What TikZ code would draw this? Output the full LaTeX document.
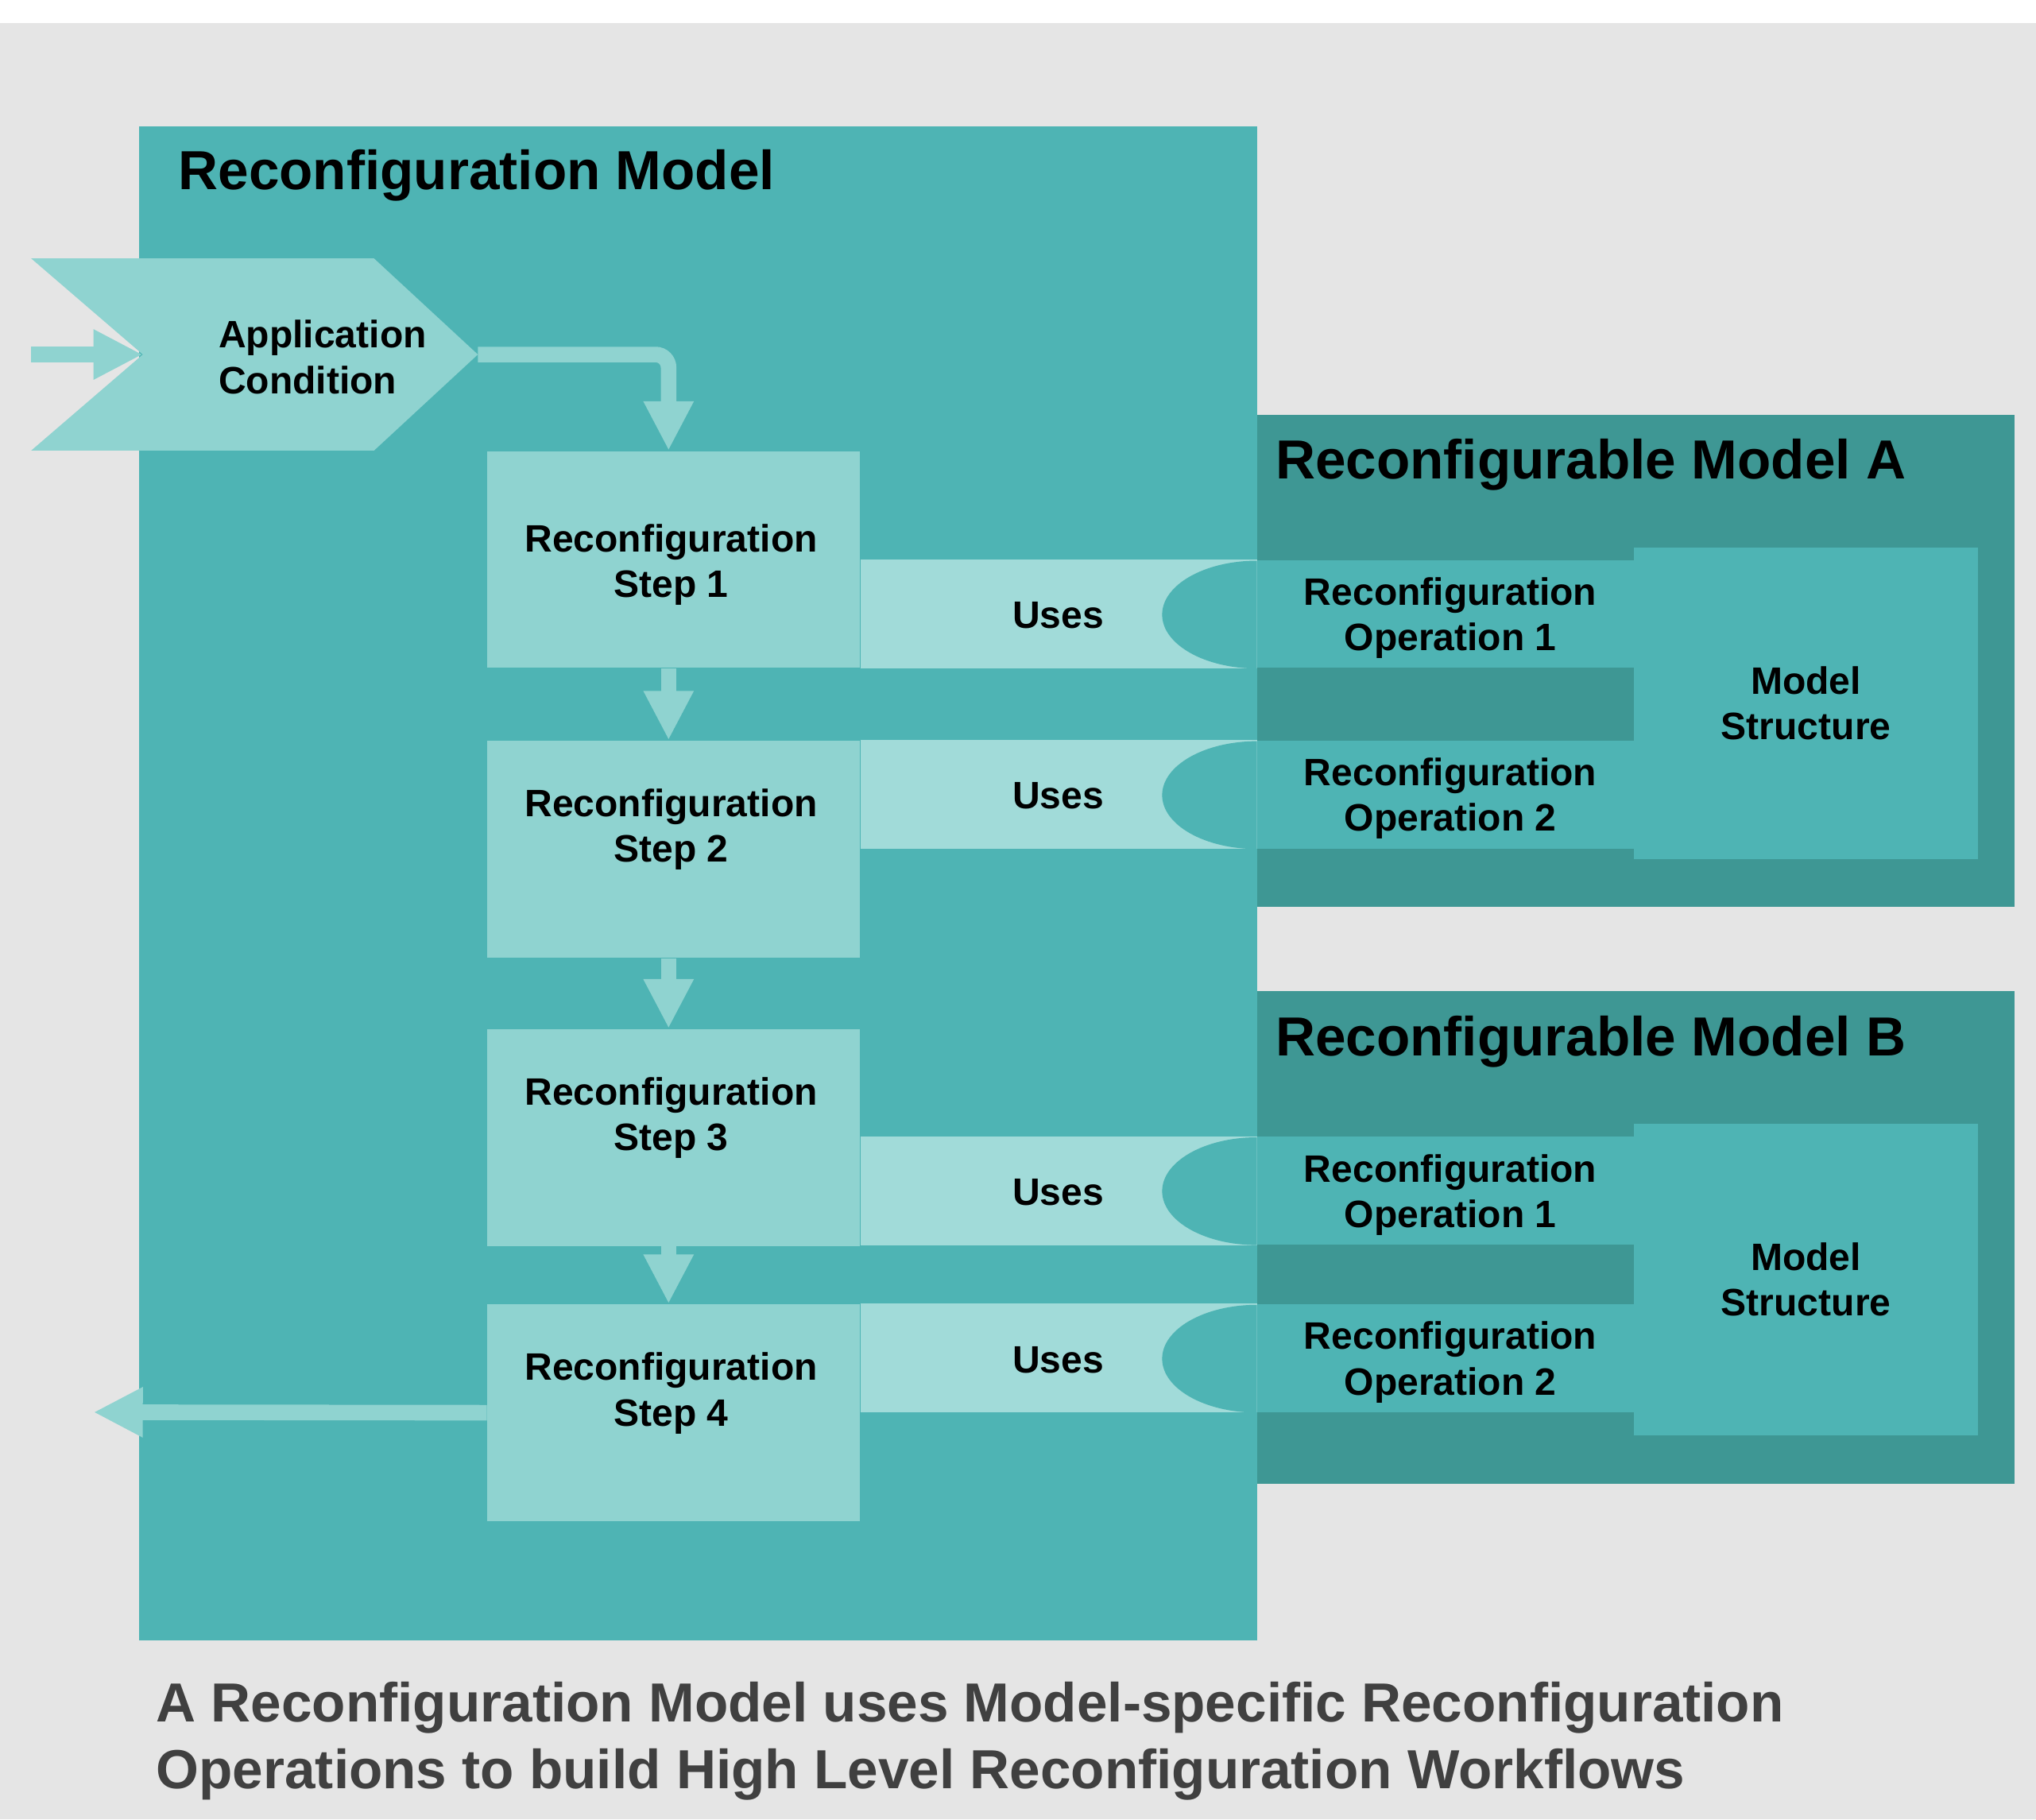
\documentclass[tikz,border=0pt]{standalone}
\usepackage{fontspec}
\setmainfont{Liberation Sans}
\usetikzlibrary{arrows.meta,positioning}

\definecolor{bggrey}{HTML}{E5E5E5}
\definecolor{teal}{HTML}{4EB4B4}
\definecolor{teallight}{HTML}{8FD3D0}
\definecolor{usesfill}{HTML}{A1DBD9}
\definecolor{tealdark}{HTML}{3E9794}
\definecolor{captiongrey}{HTML}{404040}

\tikzset{
  box/.style={rectangle,inner sep=0pt,anchor=north west},
  stepbox/.style={box,fill=teallight,minimum width=143.5pt,minimum height=83.5pt},
  opbox/.style={box,fill=teal,minimum width=145pt,minimum height=41.5pt},
  structbox/.style={box,fill=teal,minimum width=132.5pt,minimum height=120pt},
  txt/.style={font=\fontsize{14.7}{17.5}\selectfont\bfseries,align=center,inner sep=0pt},
  headtxt/.style={font=\fontsize{21.2}{25.5}\selectfont\bfseries,anchor=base west,inner sep=0pt},
  fatarrow/.style={draw=teallight,line width=6pt,-{Triangle[length=19pt,width=18pt]}}
}

\begin{document}
\begin{tikzpicture}[x=0.5pt,y=-0.5pt]
\useasboundingbox (0,0) rectangle (1568,1401);
\fill[white] (0,0) rectangle (1568,18);
\fill[bggrey] (0,18) rectangle (1568,1401);

% containers
\node[box,fill=teal,minimum width=430.5pt,minimum height=583pt] (rm) at (107,97) {};
\node[box,fill=tealdark,minimum width=291.5pt,minimum height=189.5pt] (rmA) at (968,319) {};
\node[box,fill=tealdark,minimum width=291.5pt,minimum height=189.5pt] (rmB) at (968,763) {};
\node[headtxt] (rmtitle) at (137,146) {Reconfiguration Model};
\node[headtxt] (rmAtitle) at (982,369) {Reconfigurable Model A};
\node[headtxt] (rmBtitle) at (982,813) {Reconfigurable Model B};

\node[structbox,txt] (msA) at (1258,421) {Model\\Structure};
\node[structbox,txt] (msB) at (1258,865) {Model\\Structure};

% steps
\path
(375,347)  node[stepbox] (s1) {}
(375,570)  node[stepbox] (s2) {}
(375,792)  node[stepbox] (s3) {}
(375,1004) node[stepbox] (s4) {};

% operations
\path
(968,431)  node[opbox] (opA1) {}
(968,570)  node[opbox] (opA2) {}
(968,875)  node[opbox] (opB1) {}
(968,1004) node[opbox] (opB2) {};

\foreach \s/\op in {s1/opA1,s2/opA2,s3/opB1,s4/opB2}{
  \fill[usesfill] (\s.east |- \op.north) rectangle (\op.south west);
  \fill[teal] (\op.south west) arc[start angle=90,end angle=270,x radius=73,y radius=41.5];
}

\node[txt] (s1txt) at ([xshift=-1pt,yshift=-2pt]s1.center) {Reconfiguration\\Step 1};
\node[txt] (s2txt) at ([xshift=-1pt,yshift=7.5pt]s2.center) {Reconfiguration\\Step 2};
\node[txt] (s3txt) at ([xshift=-1pt,yshift=7.5pt]s3.center) {Reconfiguration\\Step 3};
\node[txt] (s4txt) at ([xshift=-1pt,yshift=7.5pt]s4.center) {Reconfiguration\\Step 4};

\node[txt] (uA1) at (815,474) {Uses};
\node[txt] (uA2) at (815,613) {Uses};
\node[txt] (uB1) at (815,918) {Uses};
\node[txt] (uB2) at (815,1047) {Uses};

\node[txt] (opA1txt) at (1117,476) {Reconfiguration\\Operation 1};
\node[txt] (opA2txt) at (1117,615) {Reconfiguration\\Operation 2};
\node[txt] (opB1txt) at (1117,920) {Reconfiguration\\Operation 1};
\node[txt] (opB2txt) at (1117,1049) {Reconfiguration\\Operation 2};

% application condition
\fill[teallight] (24,199) -- (288,199) -- (368,273) -- (288,347) -- (24,347) -- (110,273) -- cycle;
\coordinate (acin) at (110,273);
\coordinate (acout) at (368,273);
\coordinate (feed) at (24,273);
\coordinate (exit) at (72,1087.5);
\node[txt,align=left,anchor=west] (ac) at (168,275) {Application\\Condition};

\draw[fatarrow] (feed)--(acin);
\draw[fatarrow,rounded corners=5pt] (acout) -| ([xshift=-2pt]s1.north);
\draw[fatarrow] ([xshift=-2pt]s1.south)--([xshift=-2pt]s2.north);
\draw[fatarrow] ([xshift=-2pt]s2.south)--([xshift=-2pt]s3.north);
\draw[fatarrow] ([xshift=-2pt]s3.south)--([xshift=-2pt]s4.north);
\draw[fatarrow] (s4.west)--(exit);

\node[font=\fontsize{21.2}{25.5}\selectfont\bfseries,text=captiongrey,align=left,anchor=north west,inner sep=0pt] (caption) at (120,1295)
  {A Reconfiguration Model uses Model-specific Reconfiguration\\Operations to build High Level Reconfiguration Workflows};
\end{tikzpicture}
\end{document}
